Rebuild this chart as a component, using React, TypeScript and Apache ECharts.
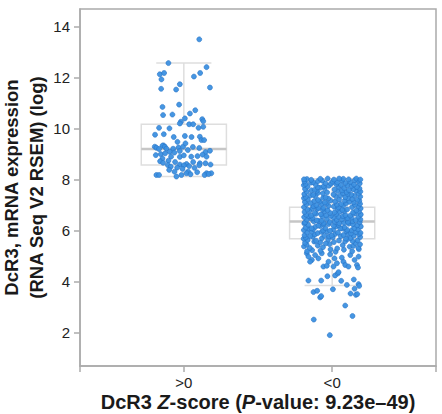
import React, { useEffect, useRef } from "react";
import * as echarts from "echarts";

// Group labels on the x axis (z-score sign)
const groupLabels = [">0", "<0"];
const groupPositions = [1, 2];

// Box statistics per group: [min, Q1, median, Q3, max]
const boxStats = [
  [8.13, 8.58, 9.21, 10.18, 12.58],
  [3.86, 5.69, 6.37, 6.93, 8.04],
];

const yTicks = [2, 4, 6, 8, 10, 12, 14];

// Samples with z-score > 0: [horizontal jitter, log expression]
const positivePoints = [
  [0.104, 13.51], [-0.104, 12.58], [0.153, 12.42], [0.11, 12.19], [0.068, 12.05], [-0.162, 12.14],
  [-0.133, 12.19], [-0.151, 11.94], [-0.027, 11.75], [0.176, 11.62], [-0.153, 11.57], [-0.052, 11.54],
  [-0.144, 10.86], [-0.032, 10.95], [0.077, 10.73], [-0.14, 10.54], [-0.077, 10.56], [0.041, 10.6],
  [0.007, 10.41], [-0.02, 10.28], [0.124, 10.38], [0.131, 10.3], [0.036, 10.18], [0.063, 10.18],
  [-0.167, 10.04], [-0.097, 10.02], [-0.027, 10.21], [0.099, 10.04], [0.131, 10.08], [-0.194, 9.77],
  [-0.135, 9.79], [-0.068, 9.68], [0.007, 9.72], [0.052, 9.68], [0.108, 9.69], [0.119, 9.56],
  [0.137, 9.56], [-0.043, 9.49], [-0.137, 9.35], [-0.196, 9.3], [-0.185, 9.26], [-0.144, 9.34],
  [-0.128, 9.3], [-0.167, 9.21], [-0.117, 9.22], [-0.072, 9.22], [-0.036, 9.27], [-0.005, 9.3],
  [0.011, 9.43], [-0.189, 8.97], [-0.155, 9.01], [-0.126, 9.04], [-0.095, 9.1], [-0.063, 9.07],
  [-0.027, 9.13], [0.027, 9.17], [0.061, 9.29], [0.104, 9.25], [0.146, 9.09], [0.176, 9.14],
  [-0.144, 8.84], [-0.086, 8.91], [-0.027, 8.9], [0.0, 8.96], [0.05, 8.91], [0.092, 8.93],
  [0.126, 8.99], [0.153, 8.91], [-0.16, 8.73], [-0.14, 8.67], [-0.104, 8.75], [-0.059, 8.7],
  [-0.027, 8.6], [0.018, 8.62], [0.063, 8.7], [0.108, 8.65], [0.146, 8.65], [0.18, 8.6],
  [-0.108, 8.58], [-0.088, 8.52], [-0.045, 8.48], [0.0, 8.57], [0.036, 8.54], [0.072, 8.47],
  [0.104, 8.57], [-0.099, 8.39], [-0.063, 8.32], [-0.009, 8.43], [0.029, 8.32], [0.09, 8.3],
  [0.153, 8.26], [0.185, 8.26], [-0.185, 8.19], [-0.167, 8.19], [-0.05, 8.13], [-0.016, 8.19],
  [0.018, 8.26], [0.045, 8.22], [0.14, 8.19], [0.167, 8.23],
];

// Samples with z-score < 0: [horizontal jitter, log expression]
const negativePoints = [
  // lower tail
  [-0.016, 1.91], [-0.124, 2.52], [0.137, 2.66], [0.088, 3.07], [-0.081, 3.39], [-0.074, 3.44],
  [-0.126, 3.6], [-0.101, 3.65], [0.005, 3.71], [0.124, 3.54], [0.16, 3.49], [0.169, 3.52],
  [0.151, 3.73], [0.178, 3.91], [0.182, 3.84], [0.099, 3.88], [-0.16, 4.05], [-0.074, 4.05],
  [-0.032, 4.22], [0.02, 4.25], [0.038, 4.33], [0.061, 4.04], [0.146, 4.09],
  [-0.171, 5.12], [-0.137, 4.86], [-0.115, 5.05], [-0.059, 4.6], [-0.036, 4.63], [-0.025, 4.79],
  [0.009, 4.6], [0.016, 4.92], [0.032, 4.73], [0.043, 4.38], [0.076, 4.79], [0.088, 4.66],
  [0.11, 4.6], [0.122, 5.05], [0.151, 4.86], [0.167, 4.66], [0.174, 4.56], [-0.149, 4.79],
  [-0.093, 4.92], [0.065, 4.95], [-0.07, 5.12], [-0.014, 5.08], [0.178, 4.99], [-0.16, 4.99],
  [-0.169, 5.2], [-0.135, 5.24], [-0.079, 5.22], [-0.011, 5.27], [0.023, 5.18], [0.079, 5.26],
  [0.135, 5.2], [0.18, 5.28],
  // main cloud
  [-0.151, 5.33], [-0.062, 5.36], [0.034, 5.31], [0.118, 5.38], [0.176, 5.34], [-0.19, 5.39],
  [-0.172, 5.46], [-0.097, 5.42], [-0.018, 5.48], [0.071, 5.44], [0.143, 5.41], [0.188, 5.47],
  [-0.183, 5.53], [-0.121, 5.58], [-0.043, 5.51], [0.012, 5.56], [0.088, 5.59], [0.157, 5.52], [-0.08, 5.55],
  [-0.165, 5.64], [-0.108, 5.61], [-0.027, 5.67], [0.046, 5.62], [0.103, 5.68], [0.171, 5.63], [-0.192, 5.69], [0.137, 5.6],
  [-0.178, 5.74], [-0.131, 5.77], [-0.069, 5.71], [0.004, 5.75], [0.058, 5.79], [0.124, 5.72], [0.189, 5.76], [-0.021, 5.78], [0.092, 5.7],
  [-0.186, 5.83], [-0.116, 5.86], [-0.052, 5.81], [0.021, 5.88], [0.077, 5.84], [0.146, 5.81], [0.181, 5.87], [-0.148, 5.8], [0.108, 5.89], [-0.004, 5.82],
  [-0.169, 5.94], [-0.098, 5.91], [-0.035, 5.97], [0.039, 5.93], [0.094, 5.99], [0.161, 5.95], [-0.137, 5.98], [0.127, 5.9], [-0.071, 5.96], [0.191, 5.92],
  [-0.191, 6.03], [-0.127, 6.07], [-0.061, 6.01], [0.008, 6.05], [0.067, 6.09], [0.131, 6.02], [0.174, 6.06], [-0.014, 6.0], [0.101, 6.04], [-0.157, 6.09],
  [-0.178, 6.13], [-0.112, 6.16], [-0.046, 6.11], [0.026, 6.18], [0.083, 6.14], [0.149, 6.11], [0.193, 6.17], [-0.081, 6.19], [0.054, 6.1], [-0.139, 6.1],
  [-0.162, 6.24], [-0.093, 6.21], [-0.024, 6.27], [0.043, 6.23], [0.112, 6.28], [0.168, 6.22], [-0.188, 6.29], [0.01, 6.2], [0.139, 6.26], [-0.058, 6.25],
  [-0.183, 6.33], [-0.124, 6.37], [-0.057, 6.31], [0.015, 6.36], [0.079, 6.32], [0.137, 6.38], [0.186, 6.34], [-0.09, 6.39], [0.048, 6.3], [-0.017, 6.35], [0.106, 6.35],
  [-0.17, 6.44], [-0.104, 6.41], [-0.036, 6.47], [0.031, 6.43], [0.097, 6.49], [0.158, 6.42], [-0.141, 6.48], [0.066, 6.46], [0.19, 6.45], [-0.071, 6.4],
  [-0.189, 6.54], [-0.131, 6.51], [-0.066, 6.57], [0.006, 6.53], [0.071, 6.58], [0.129, 6.52], [0.178, 6.56], [-0.009, 6.59], [-0.158, 6.58], [0.104, 6.5], [0.042, 6.55],
  [-0.175, 6.63], [-0.109, 6.67], [-0.041, 6.61], [0.028, 6.66], [0.089, 6.62], [0.152, 6.68], [-0.142, 6.6], [0.193, 6.64], [-0.076, 6.65], [0.122, 6.6],
  [-0.186, 6.74], [-0.118, 6.71], [-0.053, 6.77], [0.017, 6.73], [0.082, 6.78], [0.141, 6.72], [0.181, 6.76], [-0.014, 6.7], [0.051, 6.75], [-0.152, 6.79],
  [-0.167, 6.83], [-0.099, 6.86], [-0.031, 6.81], [0.037, 6.87], [0.101, 6.84], [0.163, 6.8], [-0.133, 6.89], [0.069, 6.82], [0.192, 6.88], [-0.065, 6.84],
  [-0.19, 6.93], [-0.126, 6.97], [-0.06, 6.91], [0.011, 6.95], [0.074, 6.99], [0.134, 6.93], [0.176, 6.97], [-0.093, 6.9], [0.043, 6.92], [-0.024, 6.98],
  [-0.173, 7.04], [-0.107, 7.01], [-0.038, 7.07], [0.032, 7.03], [0.094, 7.08], [0.154, 7.02], [-0.145, 7.09], [0.188, 7.06], [0.061, 7.05], [-0.072, 7.06],
  [-0.184, 7.13], [-0.12, 7.17], [-0.049, 7.11], [0.019, 7.15], [0.085, 7.19], [0.146, 7.12], [0.183, 7.18], [-0.085, 7.15], [0.117, 7.14], [-0.012, 7.19],
  [-0.164, 7.24], [-0.095, 7.21], [-0.027, 7.27], [0.047, 7.23], [0.108, 7.28], [0.171, 7.22], [-0.19, 7.28], [0.136, 7.25], [-0.061, 7.29],
  [-0.178, 7.33], [-0.113, 7.37], [-0.044, 7.31], [0.024, 7.36], [0.088, 7.32], [0.151, 7.38], [-0.145, 7.39], [0.189, 7.34], [0.056, 7.39],
  [-0.188, 7.44], [-0.128, 7.41], [-0.063, 7.47], [0.009, 7.43], [0.072, 7.48], [0.128, 7.42], [0.178, 7.46], [-0.096, 7.49], [0.104, 7.45],
  [-0.171, 7.53], [-0.104, 7.57], [-0.034, 7.51], [0.037, 7.56], [0.097, 7.52], [0.161, 7.58], [-0.14, 7.59], [0.067, 7.59], [0.19, 7.54],
  [-0.183, 7.64], [-0.118, 7.61], [-0.051, 7.67], [0.016, 7.62], [0.081, 7.68], [0.141, 7.63], [0.184, 7.66], [-0.081, 7.69], [0.113, 7.6],
  [-0.166, 7.74], [-0.097, 7.71], [-0.022, 7.77], [0.044, 7.73], [0.102, 7.78], [0.167, 7.72], [-0.191, 7.79], [0.131, 7.76], [-0.057, 7.75],
  [-0.179, 7.84], [-0.112, 7.81], [-0.046, 7.87], [0.027, 7.83], [0.089, 7.88], [0.147, 7.82], [0.186, 7.86], [-0.143, 7.89], [0.059, 7.8], [-0.008, 7.85],
  [-0.187, 7.94], [-0.129, 7.91], [-0.068, 7.97], [0.003, 7.93], [0.066, 7.98], [0.122, 7.92], [0.174, 7.96], [-0.096, 7.95], [0.034, 7.9], [0.153, 7.99],
  [-0.17, 8.03], [-0.141, 8.0], [-0.08, 8.04], [-0.03, 8.05], [0.012, 8.01], [0.075, 8.04], [0.111, 8.02], [0.163, 8.05], [0.19, 8.01], [-0.19, 8.02], [0.047, 8.05],
];

const FONT = "'Liberation Sans', Arial, Helvetica, sans-serif";
const AXIS_GRAY = "#ababab";
const BOX_GRAY = "#dedede";
const MEDIAN_GRAY = "#c6c6c6";
const BOX_HALF = 0.287;
const CAP_HALF = 0.186;

export default function App() {
  const ref = useRef<HTMLDivElement>(null);

  useEffect(() => {
    if (!ref.current) return;
    const chart = echarts.init(ref.current, null, { renderer: "svg" });

    const boxData = boxStats.map((s, i) => [groupPositions[i], ...s]);
    const scatterData = [
      ...positivePoints.map(([j, v]) => [groupPositions[0] + j, v]),
      ...negativePoints.map(([j, v]) => [groupPositions[1] + j, v]),
    ];

    const renderBox = (params: any, api: any) => {
      const x = api.value(0);
      const lo = api.value(1);
      const q1 = api.value(2);
      const med = api.value(3);
      const q3 = api.value(4);
      const hi = api.value(5);
      const tl = api.coord([x - BOX_HALF, q3]);
      const br = api.coord([x + BOX_HALF, q1]);
      const mL = api.coord([x - BOX_HALF, med]);
      const mR = api.coord([x + BOX_HALF, med]);
      const top = api.coord([x, hi]);
      const bot = api.coord([x, lo]);
      const capL = api.coord([x - CAP_HALF, hi]);
      const capR = api.coord([x + CAP_HALF, hi]);
      const capLb = api.coord([x - CAP_HALF, lo]);
      const capRb = api.coord([x + CAP_HALF, lo]);
      const lineStyle = { stroke: BOX_GRAY, lineWidth: 1.5, fill: null };
      return {
        type: "group",
        children: [
          { type: "line", shape: { x1: top[0], y1: top[1], x2: top[0], y2: tl[1] }, style: lineStyle },
          { type: "line", shape: { x1: bot[0], y1: br[1], x2: bot[0], y2: bot[1] }, style: lineStyle },
          { type: "line", shape: { x1: capL[0], y1: capL[1], x2: capR[0], y2: capR[1] }, style: lineStyle },
          { type: "line", shape: { x1: capLb[0], y1: capLb[1], x2: capRb[0], y2: capRb[1] }, style: lineStyle },
          {
            type: "rect",
            shape: { x: tl[0], y: tl[1], width: br[0] - tl[0], height: br[1] - tl[1] },
            style: { stroke: BOX_GRAY, lineWidth: 1.5, fill: "rgba(255,255,255,0)" },
          },
          {
            type: "line",
            shape: { x1: mL[0], y1: mL[1], x2: mR[0], y2: mR[1] },
            style: { stroke: MEDIAN_GRAY, lineWidth: 2.5 },
          },
        ],
      };
    };

    chart.setOption({
      animation: false,
      backgroundColor: "#ffffff",
      textStyle: { fontFamily: FONT },
      grid: {
        left: 80,
        right: 6,
        top: 9,
        bottom: 48,
        outerBoundsMode: "none",
        show: true,
        borderColor: AXIS_GRAY,
        borderWidth: 1.5,
      },
      xAxis: {
        type: "value",
        min: 0.3,
        max: 2.7,
        splitLine: { show: false },
        axisLine: { lineStyle: { color: AXIS_GRAY, width: 1.5 } },
        axisTick: {
          show: true,
          length: 6,
          customValues: [0.3, ...groupPositions, 2.7],
          lineStyle: { color: AXIS_GRAY, width: 1.5 },
        },
        axisLabel: {
          customValues: groupPositions,
          formatter: (v: number) => groupLabels[groupPositions.indexOf(Math.round(v))] ?? "",
          fontSize: 15,
          lineHeight: 16,
          color: "#222",
          fontFamily: FONT,
          margin: 8,
        },
        name: "{b|DcR3 }{bi|Z}{b|-score (}{bi|P}{b|-value: 9.23e–49)}",
        nameLocation: "middle",
        nameGap: 26,
        nameMoveOverlap: false,
        nameTextStyle: {
          lineHeight: 20,
          rich: {
            b: { fontSize: 20, lineHeight: 20, fontWeight: "bold", color: "#1a1a1a", fontFamily: FONT },
            bi: { fontSize: 20, lineHeight: 20, fontWeight: "bold", fontStyle: "italic", color: "#1a1a1a", fontFamily: FONT },
          },
        },
      },
      yAxis: {
        type: "value",
        min: 0.7,
        max: 14.7,
        splitLine: { show: false },
        axisLine: { show: true, lineStyle: { color: AXIS_GRAY, width: 1.5 } },
        axisTick: {
          show: true,
          length: 6,
          customValues: yTicks,
          lineStyle: { color: AXIS_GRAY, width: 1.5 },
        },
        axisLabel: {
          customValues: yTicks,
          fontSize: 15,
          color: "#222",
          fontFamily: FONT,
          margin: 10,
        },
        name: "DcR3, mRNA expression\n(RNA Seq V2 RSEM) (log)",
        nameLocation: "middle",
        nameRotate: 90,
        nameGap: 31,
        nameMoveOverlap: false,
        nameTextStyle: {
          fontSize: 18.5,
          fontWeight: "bold",
          color: "#1a1a1a",
          lineHeight: 25,
          fontFamily: FONT,
        },
      },
      series: [
        {
          type: "custom",
          name: "box",
          renderItem: renderBox,
          data: boxData,
          encode: { x: 0, y: [1, 2, 3, 4, 5] },
          z: 1,
          silent: true,
        },
        {
          type: "scatter",
          name: "samples",
          data: scatterData,
          symbolSize: 5,
          z: 2,
          itemStyle: {
            color: "#3c90e0",
            borderColor: "#2672c4",
            borderWidth: 0.6,
            opacity: 0.95,
          },
        },
      ],
    });

    return () => chart.dispose();
  }, []);

  return (
    <div
      ref={ref}
      style={{ position: "absolute", left: 0, top: 0, width: 442, height: 414 }}
    />
  );
}
